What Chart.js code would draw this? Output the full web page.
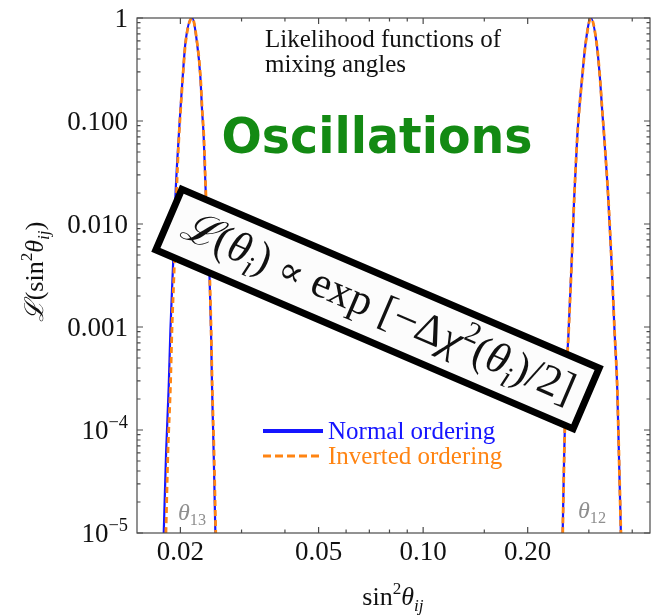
<!DOCTYPE html>
<html>
<head>
<meta charset="utf-8">
<script src="https://cdn.jsdelivr.net/npm/chart.js@4.4.1/dist/chart.umd.min.js"></script>
<style>
  html, body { margin: 0; padding: 0; background: #fff; }
  #wrap { width: 658px; height: 616px; }
</style>
</head>
<body>
<div id="wrap"><canvas id="chart" width="658" height="616"></canvas></div>
<script>
// likelihood levels (left flank up to the peak, then right flank down)
const levels = [1e-5, 5.98e-5, 2.63e-4, 9.35e-4, 4.18e-3, 1.84e-2, 7.04e-2, 0.128, 0.269, 0.568, 1,
                0.568, 0.269, 0.128, 7.04e-2, 1.84e-2, 4.18e-3, 9.35e-4, 2.63e-4, 5.98e-5, 1e-5];

// sin^2 theta_13 positions at those levels
const normalT13   = [0.01791, 0.01819, 0.01851, 0.01872, 0.01906, 0.01935, 0.01978, 0.02000, 0.02031, 0.02067, 0.02161,
                     0.02234, 0.02283, 0.02309, 0.02334, 0.02368, 0.02420, 0.02450, 0.02467, 0.02494, 0.02522];
const invertedT13 = [0.01817, 0.01841, 0.01872, 0.01891, 0.01922, 0.01948, 0.01981, 0.02003, 0.02033, 0.02069, 0.02163,
                     0.02236, 0.02285, 0.02311, 0.02337, 0.02370, 0.02422, 0.02452, 0.02470, 0.02500, 0.02528];

// sin^2 theta_12 positions at those levels
const normalT12   = [0.2522, 0.2548, 0.2577, 0.2624, 0.2676, 0.2723, 0.2778, 0.2814, 0.2871, 0.2936, 0.3041,
                     0.3158, 0.3227, 0.3277, 0.3321, 0.3410, 0.3488, 0.3556, 0.3620, 0.3661, 0.3710];
const invertedT12 = [0.2523, 0.2549, 0.2578, 0.2625, 0.2677, 0.2724, 0.2779, 0.2815, 0.2872, 0.2937, 0.3042,
                     0.3159, 0.3228, 0.3278, 0.3322, 0.3411, 0.3489, 0.3557, 0.3621, 0.3662, 0.3711];

const xMajor = [0.02, 0.05, 0.10, 0.20];
const xMajorLabels = ['0.02', '0.05', '0.10', '0.20'];
const xMinor = [0.03, 0.04, 0.06, 0.07, 0.08, 0.09, 0.15, 0.3, 0.4];
const yMajor = [1, 0.1, 0.01, 0.001, 1e-4, 1e-5];
const yMajorLabels = ['1', '0.100', '0.010', '0.001', '10|−4', '10|−5'];

const BLUE = '#1515ff', ORANGE = '#ff8412';
const serif = '"Liberation Serif", "DejaVu Serif", serif';

function pts(xs){ return levels.map((y, i) => ({ x: xs[i], y })); }

function fontOf(s, size){
  return (s.b ? 'bold ' : '') + (s.it ? 'italic ' : '') + (size * (s.s || 1)).toFixed(1) + 'px ' + (s.ff || serif);
}
function rich(ctx, segs, x, y, size, align, color){
  let w = 0;
  segs.forEach(s => { ctx.font = fontOf(s, size); w += ctx.measureText(s.t).width + (s.g || 0) * size; });
  let cx = align === 'center' ? x - w / 2 : align === 'right' ? x - w : x;
  ctx.textAlign = 'left'; ctx.textBaseline = 'alphabetic';
  segs.forEach(s => {
    ctx.font = fontOf(s, size);
    ctx.fillStyle = s.c || color;
    ctx.fillText(s.t, cx, y + (s.dy || 0) * size);
    cx += ctx.measureText(s.t).width + (s.g || 0) * size;
  });
  return w;
}
function powerSegs(lbl){
  const [b, e] = lbl.split('|');
  return e ? [{ t: b }, { t: e, s: 0.68, dy: -0.42 }] : [{ t: b }];
}

const frame = {
  id: 'frame',
  afterDatasetsDraw(chart){
    const ctx = chart.ctx, a = chart.chartArea, xs = chart.scales.x, ys = chart.scales.y;
    ctx.save();

    // frame + inward ticks on all four sides
    ctx.strokeStyle = '#4a4a4a'; ctx.lineWidth = 1.2;
    ctx.strokeRect(a.left, a.top, a.right - a.left, a.bottom - a.top);
    ctx.beginPath();
    const xt = (v, len) => { const p = xs.getPixelForValue(v);
      ctx.moveTo(p, a.bottom); ctx.lineTo(p, a.bottom - len); ctx.moveTo(p, a.top); ctx.lineTo(p, a.top + len); };
    const yt = (v, len) => { const p = ys.getPixelForValue(v);
      ctx.moveTo(a.left, p); ctx.lineTo(a.left + len, p); ctx.moveTo(a.right, p); ctx.lineTo(a.right - len, p); };
    xMajor.forEach(v => xt(v, 6)); xMinor.forEach(v => xt(v, 3.5));
    yMajor.forEach(v => yt(v, 6));
    yMajor.slice(1).forEach(d => { for (let k = 2; k <= 9; k++) yt(d * k, 3.5); });
    ctx.stroke();

    // tick labels
    xMajor.forEach((v, i) => rich(ctx, [{ t: xMajorLabels[i] }], xs.getPixelForValue(v), 560, 27, 'center', '#111'));
    yMajor.forEach((v, i) => rich(ctx, powerSegs(yMajorLabels[i]), 128, ys.getPixelForValue(v) + 9, 27, 'right', '#111'));

    // axis titles
    rich(ctx, [{ t: 'sin' }, { t: '2', s: 0.66, dy: -0.42 }, { t: 'θ', it: 1 }, { t: 'ij', it: 1, s: 0.66, dy: 0.22 }],
         393, 605, 26, 'center', '#111');
    ctx.save();
    ctx.translate(43, 272); ctx.rotate(-Math.PI / 2);
    rich(ctx, [{ t: 'ℒ', it: 1 }, { t: '(sin' }, { t: '2', s: 0.66, dy: -0.42 }, { t: 'θ', it: 1 },
               { t: 'ij', it: 1, s: 0.66, dy: 0.22 }, { t: ')' }], 0, 0, 26, 'center', '#111');
    ctx.restore();

    // annotations
    rich(ctx, [{ t: 'Likelihood functions of' }], 265, 47, 25, 'left', '#111');
    rich(ctx, [{ t: 'mixing angles' }], 265, 72, 25, 'left', '#111');

    ctx.font = 'bold 48px "DejaVu Sans", sans-serif';
    const ow = ctx.measureText('Oscillations').width;
    ctx.save();
    ctx.translate(377, 153); ctx.scale(311 / ow, 1.05);
    ctx.fillStyle = '#138a13'; ctx.textAlign = 'center'; ctx.textBaseline = 'alphabetic';
    ctx.fillText('Oscillations', 0, 0);
    ctx.restore();

    // theta labels
    rich(ctx, [{ t: 'θ', it: 1 }, { t: '13', s: 0.68, dy: 0.22 }], 178, 520, 24, 'left', '#8f8f8f');
    rich(ctx, [{ t: 'θ', it: 1 }, { t: '12', s: 0.68, dy: 0.22 }], 578, 518, 24, 'left', '#8f8f8f');

    // legend
    ctx.lineWidth = 4; ctx.strokeStyle = BLUE; ctx.setLineDash([]);
    ctx.beginPath(); ctx.moveTo(263, 431); ctx.lineTo(323, 431); ctx.stroke();
    ctx.lineWidth = 3; ctx.strokeStyle = ORANGE; ctx.setLineDash([8, 4]);
    ctx.beginPath(); ctx.moveTo(263, 456); ctx.lineTo(323, 456); ctx.stroke();
    ctx.setLineDash([]);
    rich(ctx, [{ t: 'Normal ordering' }], 328, 439, 25, 'left', BLUE);
    rich(ctx, [{ t: 'Inverted ordering' }], 328, 464, 25, 'left', ORANGE);

    // tilted formula box
    ctx.save();
    ctx.translate(377.5, 309); ctx.rotate(23.2 * Math.PI / 180);
    ctx.fillStyle = '#fcfcfc'; ctx.fillRect(-227, -33, 454, 66);
    ctx.lineWidth = 7; ctx.strokeStyle = '#000'; ctx.strokeRect(-227, -33, 454, 66);
    const fsegs = [{ t: 'ℒ', it: 1 }, { t: '(' }, { t: 'θ', it: 1 }, { t: 'i', it: 1, s: 0.68, dy: 0.22 }, { t: ') ' },
                   { t: '∝', ff: '"DejaVu Serif", serif', s: 0.85 }, { t: ' exp ' }, { t: '[−Δ' }, { t: 'χ', it: 1 },
                   { t: '2', s: 0.68, dy: -0.42 }, { t: '(' }, { t: 'θ', it: 1 }, { t: 'i', it: 1, s: 0.68, dy: 0.22 },
                   { t: ')/2]' }];
    ctx.globalAlpha = 0;
    const fw = rich(ctx, fsegs, 0, 0, 40, 'center', '#111');
    ctx.globalAlpha = 1;
    rich(ctx, fsegs, 0, 12, 40 * 425 / fw, 'center', '#111');
    ctx.restore();

    ctx.restore();
  }
};

const lineStyle = (color, w, dash) => ({
  borderColor: color, borderWidth: w, borderDash: dash, pointRadius: 0,
  cubicInterpolationMode: 'monotone', fill: false
});

new Chart(document.getElementById('chart'), {
  type: 'line',
  data: {
    datasets: [
      { label: 'Normal ordering', data: pts(normalT13), order: 2, ...lineStyle(BLUE, 2.2, []) },
      { label: 'Normal ordering', data: pts(normalT12), order: 2, ...lineStyle(BLUE, 2.2, []) },
      { label: 'Inverted ordering', data: pts(invertedT13), order: 1, ...lineStyle(ORANGE, 2.8, [6, 4]) },
      { label: 'Inverted ordering', data: pts(invertedT12), order: 1, ...lineStyle(ORANGE, 2.8, [6, 4]) }
    ]
  },
  options: {
    responsive: false, animation: false, devicePixelRatio: 1,
    layout: { padding: { top: 18, right: 8, left: 0, bottom: 0 } },
    plugins: { legend: { display: false }, tooltip: { enabled: false } },
    scales: {
      x: { type: 'logarithmic', min: 0.015, max: 0.45,
           ticks: { display: false }, grid: { display: false }, border: { display: false },
           afterFit: s => { s.height = 83; } },
      y: { type: 'logarithmic', min: 1e-5, max: 1,
           ticks: { display: false }, grid: { display: false }, border: { display: false },
           afterFit: s => { s.width = 137; } }
    }
  },
  plugins: [frame]
});
</script>
</body>
</html>
